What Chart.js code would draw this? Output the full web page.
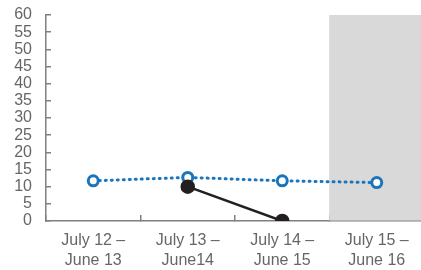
<!DOCTYPE html>
<html>
<head>
<meta charset="utf-8">
<script src="https://cdn.jsdelivr.net/npm/chart.js@4.4.1/dist/chart.umd.min.js"></script>
<style>
  html, body { margin: 0; padding: 0; background: #fff; overflow: hidden; }
  /* a touch wider than the window: the shaded column runs off the right edge */
  #wrap { width: 424px; height: 270px; position: relative; }
</style>
</head>
<body>
<div id="wrap"><canvas id="periodChart"></canvas></div>
<script>
// chart data
const periodLabels = [['July 12 –', 'June 13'], ['July 13 –', 'June14'], ['July 14 –', 'June 15'], ['July 15 –', 'June 16']];
const dottedValues = [11.7, 12.7, 11.7, 11.2];
const solidValues = [null, 10, 0, null];
const shadeValues = [null, null, null, 60];
const yMax = 60;
const yStep = 5;

const axisGrey = '#808080';
const labelGrey = '#666666';
const labelFont = { family: 'Liberation Sans', size: 16, lineHeight: 1.25 };

const ctx = document.getElementById('periodChart').getContext('2d');

const chart = new Chart(ctx, {
    type: 'line',
    data: {
        labels: periodLabels,
        datasets: [{
            type: 'bar',
            data: shadeValues,
            backgroundColor: '#d9d9d9',
            barPercentage: 1,
            categoryPercentage: 1,
            order: 3
        }, {
            data: dottedValues,
            borderColor: '#1b75bc',
            borderWidth: 3,
            borderDash: [1, 5],
            borderCapStyle: 'round',
            pointRadius: 5,
            pointBorderWidth: 3,
            pointBackgroundColor: '#fff',
            pointBorderColor: '#1b75bc',
            order: 2
        }, {
            data: solidValues,
            borderColor: '#231f20',
            borderWidth: 2.5,
            pointRadius: 6,
            pointBackgroundColor: '#231f20',
            pointBorderColor: '#231f20',
            order: 1
        }]
    },
    options: {
        responsive: true,
        maintainAspectRatio: false,
        animation: false,
        layout: { autoPadding: false, padding: { left: 13, top: 15, right: 0, bottom: 0 } },
        plugins: {
            legend: { display: false },
            tooltip: { enabled: false }
        },
        scales: {
            x: {
                offset: true,
                afterFit: (scale) => {
                    scale.paddingLeft = 0;
                    scale.paddingRight = 0;
                    scale.height = 49;
                },
                grid: { drawOnChartArea: false, offset: true, tickLength: -6, color: axisGrey, lineWidth: 1.5 },
                border: { color: axisGrey, width: 1.5 },
                ticks: { color: labelGrey, font: labelFont, padding: 16, maxRotation: 0, autoSkip: false }
            },
            y: {
                min: 0,
                max: yMax,
                afterFit: (scale) => {
                    scale.paddingTop = 0;
                    scale.paddingBottom = 0;
                    scale.width = 33;
                },
                grid: { drawOnChartArea: false, tickLength: -5, color: axisGrey, lineWidth: 1.5 },
                border: { color: axisGrey, width: 1.5 },
                ticks: { stepSize: yStep, color: labelGrey, font: labelFont, padding: 19, autoSkip: false }
            }
        }
    }
});
</script>
</body>
</html>
